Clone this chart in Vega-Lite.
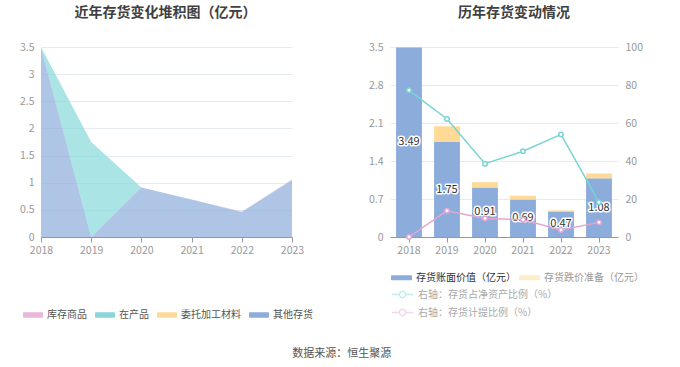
{
  "$schema": "https://vega.github.io/schema/vega-lite/v6.json",
  "background": "white",
  "padding": {"left": 19, "top": 6, "right": 5, "bottom": 5},
  "config": {
    "font": "Noto Sans CJK SC",
    "view": {"stroke": null},
    "axis": {"labelColor": "#999999", "labelFontSize": 10.5, "gridColor": "#E6EAF3", "domainColor": "#8E99AE", "tickColor": "#8E99AE", "titleFontSize": 11, "labelOverlap": false}
  },
  "title": {"text": "数据来源：恒生聚源", "orient": "bottom", "anchor": "middle", "fontSize": 11, "fontWeight": "normal", "color": "#555555", "offset": 28, "dx": 10},
  "datasets": {
    "stack": [
      {"year": "2018", "type": "库存商品", "value": 0},
      {"year": "2019", "type": "库存商品", "value": 0},
      {"year": "2020", "type": "库存商品", "value": 0},
      {"year": "2021", "type": "库存商品", "value": 0},
      {"year": "2022", "type": "库存商品", "value": 0.01},
      {"year": "2023", "type": "库存商品", "value": 0.01},
      {"year": "2018", "type": "在产品", "value": 0.01},
      {"year": "2019", "type": "在产品", "value": 1.75},
      {"year": "2020", "type": "在产品", "value": 0},
      {"year": "2021", "type": "在产品", "value": 0},
      {"year": "2022", "type": "在产品", "value": 0},
      {"year": "2023", "type": "在产品", "value": 0},
      {"year": "2018", "type": "委托加工材料", "value": 0},
      {"year": "2019", "type": "委托加工材料", "value": 0},
      {"year": "2020", "type": "委托加工材料", "value": 0},
      {"year": "2021", "type": "委托加工材料", "value": 0},
      {"year": "2022", "type": "委托加工材料", "value": 0},
      {"year": "2023", "type": "委托加工材料", "value": 0},
      {"year": "2018", "type": "其他存货", "value": 3.49},
      {"year": "2019", "type": "其他存货", "value": 0},
      {"year": "2020", "type": "其他存货", "value": 0.91},
      {"year": "2021", "type": "其他存货", "value": 0.69},
      {"year": "2022", "type": "其他存货", "value": 0.46},
      {"year": "2023", "type": "其他存货", "value": 1.05}
    ],
    "bars": [
      {"year": "2018", "type": "存货账面价值（亿元）", "value": 3.49},
      {"year": "2019", "type": "存货账面价值（亿元）", "value": 1.75},
      {"year": "2020", "type": "存货账面价值（亿元）", "value": 0.91},
      {"year": "2021", "type": "存货账面价值（亿元）", "value": 0.69},
      {"year": "2022", "type": "存货账面价值（亿元）", "value": 0.47},
      {"year": "2023", "type": "存货账面价值（亿元）", "value": 1.08},
      {"year": "2018", "type": "存货跌价准备（亿元）", "value": 0},
      {"year": "2019", "type": "存货跌价准备（亿元）", "value": 0.29},
      {"year": "2020", "type": "存货跌价准备（亿元）", "value": 0.1},
      {"year": "2021", "type": "存货跌价准备（亿元）", "value": 0.07},
      {"year": "2022", "type": "存货跌价准备（亿元）", "value": 0.02},
      {"year": "2023", "type": "存货跌价准备（亿元）", "value": 0.09}
    ],
    "lines": [
      {"year": "2018", "series": "右轴：存货占净资产比例（%）", "pct": 77.2},
      {"year": "2019", "series": "右轴：存货占净资产比例（%）", "pct": 62.1},
      {"year": "2020", "series": "右轴：存货占净资产比例（%）", "pct": 38.6},
      {"year": "2021", "series": "右轴：存货占净资产比例（%）", "pct": 45.1},
      {"year": "2022", "series": "右轴：存货占净资产比例（%）", "pct": 54.0},
      {"year": "2023", "series": "右轴：存货占净资产比例（%）", "pct": 18.3},
      {"year": "2018", "series": "右轴：存货计提比例（%）", "pct": 0},
      {"year": "2019", "series": "右轴：存货计提比例（%）", "pct": 13.8},
      {"year": "2020", "series": "右轴：存货计提比例（%）", "pct": 9.8},
      {"year": "2021", "series": "右轴：存货计提比例（%）", "pct": 9.1},
      {"year": "2022", "series": "右轴：存货计提比例（%）", "pct": 3.7},
      {"year": "2023", "series": "右轴：存货计提比例（%）", "pct": 7.7}
    ]
  },
  "spacing": 64,
  "hconcat": [
    {
      "width": 251,
      "height": 190,
      "title": {"text": "近年存货变化堆积图（亿元）", "anchor": "middle", "frame": "bounds", "offset": 22, "dx": 4, "fontSize": 14, "fontWeight": "bold", "color": "#404040"},
      "data": {"name": "stack"},
      "mark": {"type": "area", "fillOpacity": 0.7},
      "encoding": {
        "x": {"field": "year", "type": "ordinal", "scale": {"type": "point", "padding": 0},
              "axis": {"title": null, "labelAngle": 0, "tickSize": 5, "labelPadding": 3}},
        "y": {"field": "value", "type": "quantitative", "stack": "zero", "scale": {"domain": [0, 3.5], "nice": false},
              "axis": {"title": null, "values": [0, 0.5, 1, 1.5, 2, 2.5, 3, 3.5], "format": "~g", "domain": false, "ticks": false, "labelPadding": 7}},
        "color": {"field": "type", "type": "nominal",
                  "scale": {"domain": ["库存商品", "在产品", "委托加工材料", "其他存货"], "range": ["#E9B7DA", "#88D8DA", "#FFD996", "#8CACDB"]},
                  "legend": {"orient": "none", "legendX": -18, "legendY": 258, "direction": "horizontal", "columns": 4, "title": null,
                             "symbolType": "M-0.9,-0.27H0.9A0.1,0.1 0 0 1 1,-0.17V0.17A0.1,0.1 0 0 1 0.9,0.27H-0.9A0.1,0.1 0 0 1 -1,0.17V-0.17A0.1,0.1 0 0 1 -0.9,-0.27Z",
                             "symbolSize": 400, "symbolOpacity": 1, "symbolStrokeWidth": 0,
                             "labelFontSize": 10, "labelColor": "#555555", "labelOffset": 4, "columnPadding": 8}},
        "order": {"field": "type", "sort": "ascending"}
      }
    },
    {
      "width": 228,
      "height": 190,
      "title": {"text": "历年存货变动情况", "anchor": "middle", "frame": "group", "offset": 22, "dx": 10, "fontSize": 14, "fontWeight": "bold", "color": "#404040"},
      "layer": [
        {
          "layer": [
            {
              "data": {"name": "bars"},
              "mark": {"type": "bar"},
              "encoding": {
                "x": {"field": "year", "type": "ordinal", "scale": {"paddingInner": 0.32, "paddingOuter": 0.16},
                      "axis": {"title": null, "labelAngle": 0, "tickSize": 5, "labelPadding": 3}},
                "y": {"field": "value", "type": "quantitative", "stack": "zero", "scale": {"domain": [0, 3.5], "nice": false},
                      "axis": {"title": null, "values": [0, 0.7, 1.4, 2.1, 2.8, 3.5], "format": "~g", "domain": false, "ticks": false, "labelPadding": 7}},
                "color": {"field": "type", "type": "nominal",
                          "scale": {"domain": ["存货账面价值（亿元）", "存货跌价准备（亿元）"], "range": ["#8CACDB", "#FFD996"]},
                          "legend": {"orient": "none", "legendX": 1, "legendY": 220, "direction": "horizontal", "columns": 2, "title": null,
                                     "symbolType": "M-0.9,-0.24H0.9A0.1,0.1 0 0 1 1,-0.14V0.14A0.1,0.1 0 0 1 0.9,0.24H-0.9A0.1,0.1 0 0 1 -1,0.14V-0.14A0.1,0.1 0 0 1 -0.9,-0.24Z",
                                     "symbolSize": 441, "symbolStrokeWidth": 0,
                                     "labelFontSize": 10, "labelOffset": 4, "columnPadding": 3,
                                     "encode": {
                                       "labels": {"update": {"fill": {"signal": "datum.value === '存货账面价值（亿元）' ? '#333333' : '#999999'"}}},
                                       "symbols": {"update": {"opacity": {"signal": "datum.value === '存货账面价值（亿元）' ? 1 : 0.5"}}}
                                     }}},
                "order": {"field": "type", "sort": "ascending"}
              }
            },
            {
              "data": {"name": "bars"},
              "transform": [
                {"filter": "datum.type === '存货账面价值（亿元）'"},
                {"calculate": "datum.value / 2", "as": "mid"}
              ],
              "mark": {"type": "text", "fontSize": 11, "stroke": "white", "strokeWidth": 3, "fill": "white", "strokeJoin": "round"},
              "encoding": {
                "x": {"field": "year", "type": "ordinal"},
                "y": {"field": "mid", "type": "quantitative", "scale": {"domain": [0, 3.5], "nice": false},
                      "axis": {"title": null, "values": [0, 0.7, 1.4, 2.1, 2.8, 3.5], "format": "~g", "domain": false, "ticks": false, "labelPadding": 7}},
                "text": {"field": "value", "type": "quantitative", "format": ".2f"}
              }
            },
            {
              "data": {"name": "bars"},
              "transform": [
                {"filter": "datum.type === '存货账面价值（亿元）'"},
                {"calculate": "datum.value / 2", "as": "mid"}
              ],
              "mark": {"type": "text", "fontSize": 11, "fill": "#333333"},
              "encoding": {
                "x": {"field": "year", "type": "ordinal"},
                "y": {"field": "mid", "type": "quantitative", "scale": {"domain": [0, 3.5], "nice": false},
                      "axis": {"title": null, "values": [0, 0.7, 1.4, 2.1, 2.8, 3.5], "format": "~g", "domain": false, "ticks": false, "labelPadding": 7}},
                "text": {"field": "value", "type": "quantitative", "format": ".2f"}
              }
            }
          ]
        },
        {
          "data": {"name": "lines"},
          "mark": {"type": "line", "strokeWidth": 1.5, "point": {"filled": false, "fill": "white", "size": 20, "strokeWidth": 1.5}},
          "encoding": {
            "x": {"field": "year", "type": "ordinal"},
            "y": {"field": "pct", "type": "quantitative", "scale": {"domain": [0, 100], "nice": false},
                  "axis": {"title": null, "orient": "right", "values": [0, 20, 40, 60, 80, 100], "grid": false, "domain": false, "ticks": false, "labelPadding": 7}},
            "color": {"field": "series", "type": "nominal",
                      "scale": {"domain": ["右轴：存货占净资产比例（%）", "右轴：存货计提比例（%）"], "range": ["#79D3D4", "#E3A6D3"]},
                      "legend": {"orient": "none", "legendX": 1, "legendY": 236, "direction": "vertical", "title": null,
                                 "symbolType": "M-1,0H-0.3M0.3,0H1M0.3,0A0.3,0.3 0 1 1 -0.3,0A0.3,0.3 0 1 1 0.3,0Z",
                                 "symbolSize": 441, "symbolStrokeWidth": 1.5, "symbolFillColor": "white", "symbolOpacity": 0.45,
                                 "labelFontSize": 10, "labelColor": "#aaaaaa", "labelOffset": 4, "rowPadding": -3}}
          }
        }
      ],
      "resolve": {"scale": {"y": "independent", "color": "independent"}}
    }
  ]
}
